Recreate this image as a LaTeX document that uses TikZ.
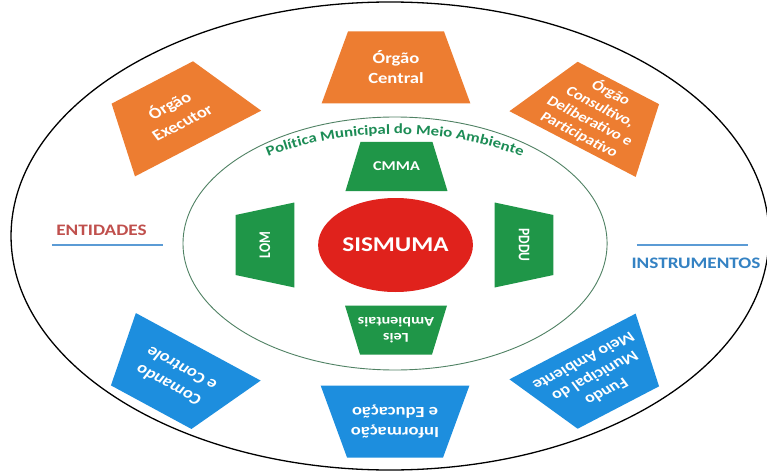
\documentclass[tikz,border=0pt]{standalone}
\usepackage{fontspec}
\setmainfont{Carlito}
\newfontfamily\polfont{Carlito}[FakeStretch=1.2]
\usetikzlibrary{shapes.geometric,decorations.text}
\definecolor{org}{RGB}{237,125,49}
\definecolor{blu}{RGB}{29,142,222}
\definecolor{grn}{RGB}{31,150,72}
\definecolor{sisred}{RGB}{224,34,28}
\definecolor{entred}{RGB}{192,80,77}
\definecolor{insblue}{RGB}{52,130,195}
\definecolor{ulblue}{RGB}{91,155,213}
\definecolor{ringgreen}{RGB}{80,130,100}
\definecolor{polgreen}{RGB}{28,140,85}
\newcommand\trapz[6]{\fill[#6, shift={#1}, rotate=#2] (-#3/2,-#5/2) -- (#3/2,-#5/2) -- (#4/2,#5/2) -- (-#4/2,#5/2) -- cycle;}
\newcommand\fO{\fontsize{15.5}{20}\selectfont\bfseries}
\newcommand\fC{\fontsize{14}{16.5}\selectfont\bfseries}
\newcommand\fF{\fontsize{15}{18}\selectfont\bfseries}
\newcommand\fG{\fontsize{13.5}{16}\selectfont\bfseries}
\begin{document}
\begin{tikzpicture}[x=1pt,y=1pt,
  lbl/.style={text=white, align=center, inner sep=0pt, transform shape},
  side/.style={inner sep=0pt, transform shape, font=\fontsize{16}{16}\selectfont\bfseries},
  uline/.style={ulblue, line width=1.4pt}]
\useasboundingbox (0,0) rectangle (767,472);
\clip (0,0) rectangle (767,472);
\fill[white] (0,0) rectangle (767,472);
\begin{scope}[xscale=1.2]
  % rings
  \draw[line width=1.3pt] (325,236) ellipse[x radius=315.8pt, y radius=234pt];
  \draw[ringgreen, line width=0.9pt] (329.2,228.5) ellipse[x radius=176.7pt, y radius=126.5pt];
  % orange (entidades)
  \trapz{(330,404.5)}{0}{124}{80}{72}{org}
  \node[lbl, font=\fO] (central) at (330,404.5) {Órgão\\Central};
  \trapz{(146,359)}{32}{124}{80}{72}{org}
  \node[lbl, rotate=32, font=\fO] (exec) at (146,359) {Órgão\\Executor};
  \trapz{(496.2,358.5)}{-32}{124}{80}{72}{org}
  \node[lbl, rotate=-32, font=\fC] (cons) at (496.2,358.5) {Órgão\\Consultivo,\\Deliberativo e\\Participativo};
  % blue (instrumentos)
  \trapz{(329.2,50.5)}{180}{124}{80}{72}{blu}
  \node[lbl, rotate=180, font=\fO] (info) at (329.2,50.5) {Informação\\e Educação};
  \trapz{(145.6,95)}{147}{124}{80}{72}{blu}
  \node[lbl, rotate=147, font=\fO] (cmd) at (145.6,95) {Comando\\e Controle};
  \trapz{(496.2,95)}{-148}{124}{80}{72}{blu}
  \node[lbl, rotate=-148, font=\fF] (fundo) at (496.2,95) {Fundo\\Municipal do\\Meio Ambiente};
  % green (inner)
  \trapz{(330.4,305.5)}{0}{85}{60}{49}{grn}
  \node[lbl, font=\fG] (cmma) at (330.4,305.5) {CMMA};
  \trapz{(330,142)}{180}{85}{60}{49}{grn}
  \node[lbl, rotate=180, font=\fG] (leis) at (330,142) {Leis\\Ambientais};
  \trapz{(220.8,227)}{90}{85}{60}{49}{grn}
  \node[lbl, rotate=90, font=\fG] (lom) at (220.8,227) {LOM};
  \trapz{(436.7,227)}{-90}{85}{60}{49}{grn}
  \node[lbl, rotate=-90, font=\fG] (pddu) at (436.7,227) {PDDU};
  % centre
  \node[ellipse, fill=sisred, minimum width=129pt, minimum height=94pt, inner sep=0pt,
        transform shape, text=white, font=\fontsize{21}{21}\selectfont\bfseries] (sis) at (329.6,227) {SISMUMA};
  % side labels
  \node[side, text=entred] (ent) at (84.6,242) {ENTIDADES};
  \draw[uline] (43.3,227) -- (135.8,227);
  \node[side, text=insblue] (ins) at (580,209) {INSTRUMENTOS};
  \draw[uline] (530.8,227) -- (623.3,227);
\end{scope}
% curved title of the inner ring (pixel frame)
\path[decorate, decoration={text along path, text align=center,
   text={|\polfont\fontsize{14}{14}\selectfont\bfseries\color{polgreen}|Política Municipal do Meio Ambiente}}]
   (261.9,312.4) arc[start angle=130, end angle=50, x radius=207pt, y radius=109.5pt];
\end{tikzpicture}
\end{document}
